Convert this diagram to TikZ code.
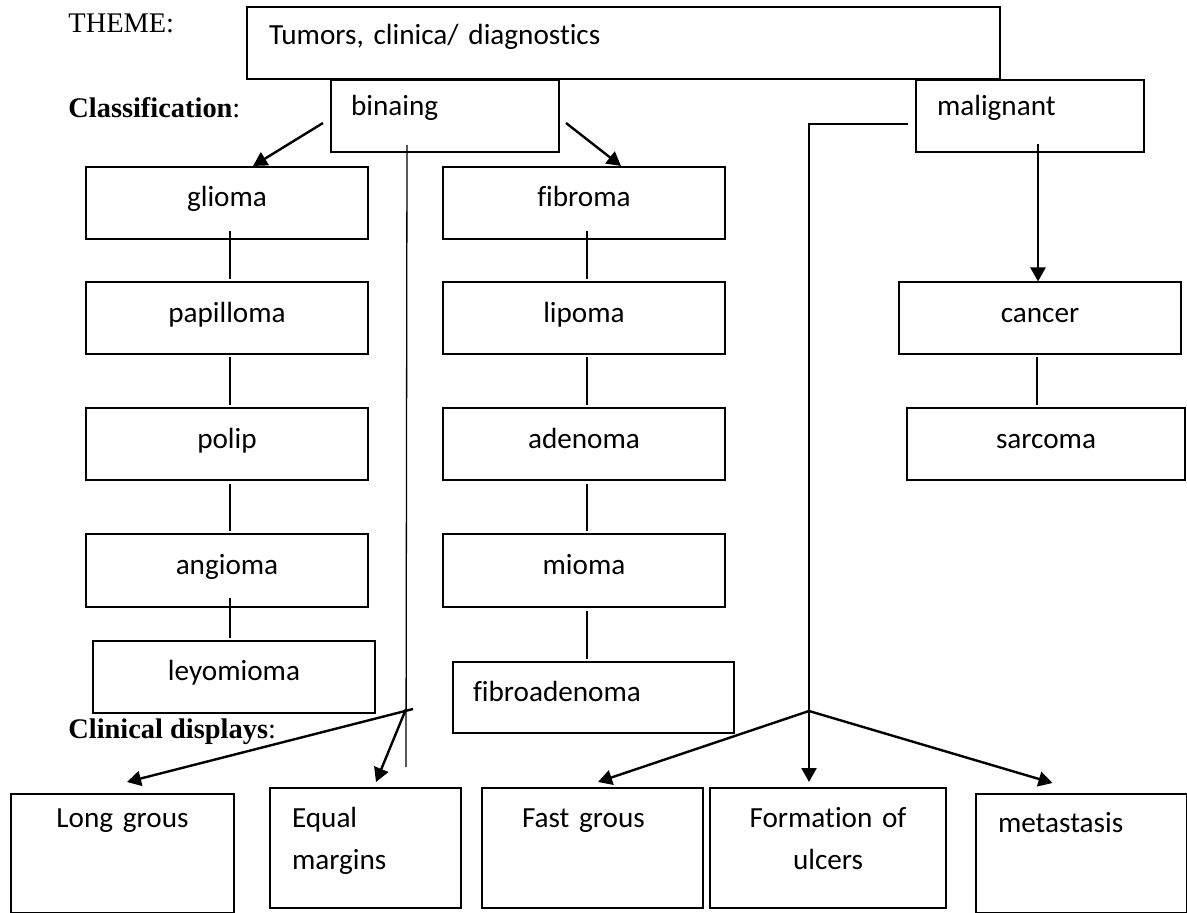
\documentclass[tikz,border=0pt]{standalone}
\usepackage{fontspec}
\setmainfont{Liberation Serif}
\newfontfamily\cellfont{Carlito}[Ligatures=NoCommon]
\usetikzlibrary{arrows.meta}

\begin{document}
\begin{tikzpicture}[x=0.5pt,y=-0.5pt,
  cell/.style={draw, line width=1pt, font=\cellfont\fontsize{14.6}{21}\selectfont},
  tumour/.style={cell, minimum width=141pt, minimum height=36pt, inner sep=0pt, text height=9pt, text depth=5pt},
  sheet/.style={cell, anchor=north west, inner ysep=0pt, align=left},
  label/.style={anchor=base west, inner sep=0pt, font=\fontsize{14.2}{17}\selectfont},
  link/.style={line width=0.65pt},
  flow/.style={line width=1.2pt, -{Triangle[length=7pt,width=7.5pt]}}]
\useasboundingbox (0,0) rectangle (1187,913);

% headings
\node[label] (theme) at (68,33) {THEME:};
\node[label] (classif) at (68,117.5) {\textbf{Classification}:};
\node[label] (clinical) at (68,738) {\textbf{Clinical displays}:};

% top row
\node[sheet, text width=354.5pt, inner xsep=11pt, text height=19pt, text depth=17pt] (topic) at (246,6) {Tumors, clinica/ diagnostics};
\node[sheet, text width=94pt, inner xsep=10pt, text height=18pt, text depth=18pt] (binaing) at (330,79) {binaing};
\node[sheet, text width=93pt, inner xsep=10.5pt, text height=18pt, text depth=18pt] (malignant) at (915,79) {malignant};

% benign columns
\node[tumour] (glioma) at (227,203) {glioma};
\node[tumour] (papilloma) at (227,318.5) {papilloma};
\node[tumour] (polip) at (227,444.5) {polip};
\node[tumour] (angioma) at (227,570.5) {angioma};
\node[tumour] (leyomioma) at (234,676.5) {leyomioma};
\node[tumour] (fibroma) at (584,203) {fibroma};
\node[tumour] (lipoma) at (584,318.5) {lipoma};
\node[tumour] (adenoma) at (584,444.5) {adenoma};
\node[tumour] (mioma) at (584,570.5) {mioma};
\node[sheet, text width=120.5pt, inner xsep=10pt, text height=19.5pt, text depth=16pt] (fibroadenoma) at (452,661) {fibroadenoma};

% malignant column
\node[tumour] (cancer) at (1040,318.5) {cancer};
\node[tumour, minimum width=139pt] (sarcoma) at (1046,444.5) {sarcoma};

% clinical displays
\node[sheet, align=center, inner xsep=0pt, text width=111.5pt, text height=16.5pt, text depth=43pt] (longgrous) at (10,793) {Long grous};
\node[sheet, text width=73.5pt, inner xsep=11pt, text height=19.5pt, text depth=40.5pt] (equal) at (269,787) {Equal\\margins};
\node[sheet, text width=70.5pt, inner xsep=20pt, text height=19.5pt, text depth=40.5pt] (fastgrous) at (481,787) {Fast grous};
\node[sheet, align=center, inner xsep=0pt, text width=118pt, text height=19.5pt, text depth=40.5pt] (formation) at (709,787) {Formation of\\ulcers};
\node[sheet, text width=83.5pt, inner xsep=11pt, text height=19pt, text depth=40.5pt] (metastasis) at (975,793) {metastasis};

\coordinate (benign) at (406,709);
\coordinate (benignend) at (406,767);
\coordinate (malfork) at (809,711);

% connectors
\draw[flow] ([shift={(-7,7)}]binaing.west) -- ([shift={(26,0)}]glioma.north);
\draw[flow] ([shift={(6,7)}]binaing.east) -- ([shift={(37,0)}]fibroma.north);
\draw[link] ([shift={(-38,-8)}]binaing.south) -- (benignend);
\draw[flow] ([shift={(7,0)}]benign) -- ([shift={(4.5,-11)}]longgrous.north);
\draw[flow] (benign) -- ([shift={(10.5,-5)}]equal.north);

\draw[link] ([shift={(-7,8)}]malignant.west) -| (malfork);
\draw[flow] (malfork) -- ([shift={(5.5,-5)}]fastgrous.north);
\draw[flow, shorten >=2.5pt] (malfork) -- (malfork |- formation.north);
\draw[flow] (malfork) -- ([shift={(-29,-10)}]metastasis.north);
\draw[flow, shorten <=-4.5pt] ([xshift=4pt]malignant.south) -- ([xshift=4pt]malignant.south |- cancer.north);

\foreach \a/\b/\s in {glioma/papilloma/-4.5pt, papilloma/polip/1pt, polip/angioma/1.5pt, angioma/leyomioma/-5pt,
  fibroma/lipoma/-4.5pt, lipoma/adenoma/1pt, adenoma/mioma/1.5pt, mioma/fibroadenoma/1.5pt}
  \draw[link, shorten <=\s, shorten >=1pt] ([xshift=1.5pt]\a.south) -- ([xshift=1.5pt]\a.south |- \b.north);
\draw[link, shorten <=1pt, shorten >=1pt] ([xshift=-1.5pt]cancer.south) -- ([xshift=-1.5pt]cancer.south |- sarcoma.north);
\end{tikzpicture}
\end{document}
